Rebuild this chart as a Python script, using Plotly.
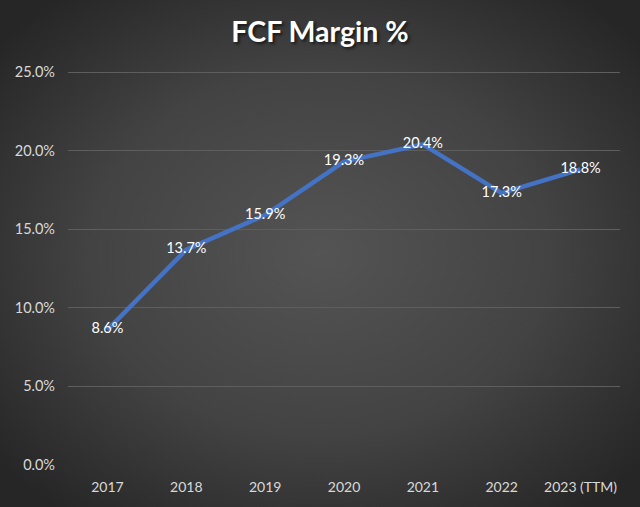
import plotly.graph_objects as go
import base64

years = ["2017", "2018", "2019", "2020", "2021", "2022", "2023 (TTM)"]
fcf_margin = [8.6, 13.7, 15.9, 19.3, 20.4, 17.3, 18.8]
y_ticks = [0, 5, 10, 15, 20, 25]

svg = """<svg xmlns='http://www.w3.org/2000/svg' width='640' height='507' viewBox='0 0 640 507' preserveAspectRatio='none'>
<defs><radialGradient id='g' cx='50%' cy='50%' r='65%'>
<stop offset='0%' stop-color='#545454'/>
<stop offset='55%' stop-color='#434343'/>
<stop offset='100%' stop-color='#262626'/>
</radialGradient></defs>
<rect width='640' height='507' fill='url(#g)'/></svg>"""
src = "data:image/svg+xml;base64," + base64.b64encode(svg.encode()).decode()

L, R, T, B = 68, 20, 66, 42
pw, ph = 640 - L - R, 507 - T - B
px_per_unit = (465 - 72) / 25.0
y_top = ph / px_per_unit

fig = go.Figure()
fig.add_trace(go.Scatter(
    x=years, y=fcf_margin, mode="lines+text",
    line=dict(color="#4472C4", width=4.5),
    text=[f"{v:.1f}%" for v in fcf_margin],
    textposition="middle center",
    textfont=dict(color="#ffffff", size=14.5, family="Lato"),
    hoverinfo="skip",
))

fig.update_layout(
    width=640, height=507,
    margin=dict(l=L, r=R, t=T, b=B),
    paper_bgcolor="#333333",
    plot_bgcolor="rgba(0,0,0,0)",
    showlegend=False,
    title=dict(text="<b>FCF Margin %</b>", x=0.5, xanchor="center", y=1 - 32 / 507, yanchor="middle",
               font=dict(family="Lato", size=28.5, color="#ffffff",
                         shadow="2px 2px 3px rgba(0,0,0,0.6)")),
    font=dict(family="Lato", color="#d9d9d9", size=14),
    images=[dict(source=src, xref="paper", yref="paper",
                 x=-L / pw, y=1 + T / ph, sizex=640 / pw, sizey=507 / ph,
                 xanchor="left", yanchor="top", sizing="stretch", layer="below")],
)

fig.update_xaxes(range=[-0.5, len(years) - 0.5], showgrid=False, zeroline=False, showline=False,
                 ticks="", tickfont=dict(color="#d9d9d9", size=14), automargin=False,
                 ticklabelstandoff=12)
fig.update_yaxes(range=[0, y_top], tickvals=y_ticks, ticktext=[f"{v:.1f}%" for v in y_ticks],
                 showgrid=True, gridcolor="#5e5e5e", gridwidth=1, zeroline=False,
                 showline=False, ticks="", tickfont=dict(color="#d9d9d9", size=14.5), automargin=False,
                 ticklabelstandoff=12)

fig.write_html("out.html", config={"displayModeBar": False},
               post_script="document.body.style.margin='0';document.body.style.overflow='hidden';")
